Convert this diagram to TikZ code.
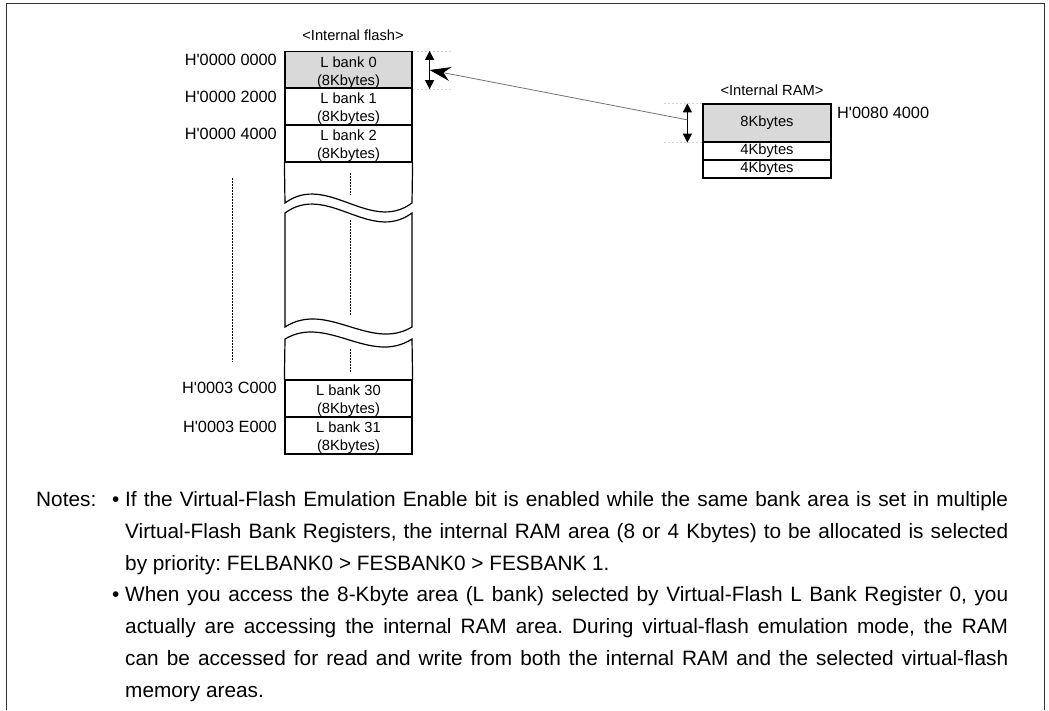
\documentclass[tikz,border=0pt]{standalone}
\usepackage{fontspec}
\setmainfont{Liberation Sans}
\usetikzlibrary{arrows.meta,calc}
\definecolor{boxgray}{RGB}{217,217,217}
\definecolor{guidegray}{RGB}{215,215,215}
\newcommand{\aps}{\textquotesingle}
\frenchspacing
\tikzset{
  lbl/.style={font=\fontsize{14.7}{18}\selectfont, inner sep=0pt},
  addr/.style={font=\fontsize{16.3}{18}\selectfont, inner sep=0pt, text height=11.7pt, text depth=0pt},
  bank/.style={draw, line width=1.2pt, minimum width=127pt, minimum height=37pt, inner sep=0pt,
               align=center, font=\fontsize{14.7}{18}\selectfont, text height=33pt, text depth=3pt},
  rambox/.style={draw, line width=1.2pt, minimum width=128pt, inner sep=0pt,
               font=\fontsize{14.7}{18}\selectfont},
  colline/.style={line width=1.2pt},
  dots/.style={line width=1pt, dash pattern=on 1.5pt off 1.5pt},
  guide/.style={guidegray, line width=0.6pt, dash pattern=on 2pt off 2pt},
  dblarrow/.style={line width=1.2pt, {Triangle[length=9pt,width=9pt]}-{Triangle[length=9pt,width=9pt]}},
  note/.style={font=\fontsize{20.8}{24}\selectfont\frenchspacing, inner sep=0pt, anchor=base west},
}
\begin{document}
\begin{tikzpicture}[x=1pt,y=-1pt]
\useasboundingbox (0,0) rectangle (1049,710);
% outer frame (open at bottom)
\draw[line width=1pt, black!80] (6,710) -- (6,3) -- (1044,3) -- (1044,710);

% ---------- internal flash ----------
\node[lbl] (fltitle) at (353,35) {<Internal flash>};
\node[bank, fill=boxgray] (b0) at (348.5,70) {L bank 0\\(8Kbytes)};
\node[bank] (b1) at (348.5,106.5) {L bank 1\\(8Kbytes)};
\node[bank] (b2) at (348.5,143.5) {L bank 2\\(8Kbytes)};
\node[bank] (b30) at (348.5,398.5) {L bank 30\\(8Kbytes)};
\node[bank] (b31) at (348.5,435.5) {L bank 31\\(8Kbytes)};

% broken middle part
\draw[colline] (b2.south west) -- (285,203)
   .. controls (327,172) and (370,234) .. (412,203) -- (b2.south east);
\draw[colline] (285,213) .. controls (327,182) and (370,244) .. (412,213)
   -- (412,327) .. controls (370,352) and (327,300) .. (285,327) -- cycle;
\draw[colline] (b30.north west) -- (285,339)
   .. controls (327,314) and (370,366) .. (412,339) -- (b30.north east);

% dotted continuation marks
\draw[dots] (350,173) -- (350,195);
\draw[dots] (350,220) -- (350,315);
\draw[dots] (350,349) -- (350,372);
\draw[dots] (232,178) -- (232,362);

% addresses
\node[addr, anchor=east] (a0) at (277,60) {H\aps0000 0000};
\node[addr, anchor=east] (a1) at (277,97) {H\aps0000 2000};
\node[addr, anchor=east] (a2) at (277,134) {H\aps0000 4000};
\node[addr, anchor=east] (a30) at (277,388) {H\aps0003 C000};
\node[addr, anchor=east] (a31) at (277,427) {H\aps0003 E000};

% flash side size arrow
\coordinate (ft) at ($(b0.north east)+(17,0)$);
\coordinate (fb) at ($(b0.south east)+(17,0)$);
\coordinate (fm) at ($(ft)!0.5!(fb)$);
\draw[guide] (b0.north east) -- ++(38,0);
\draw[guide] (b0.south east) -- ++(38,0);
\draw[dblarrow] (ft) -- (fb);

% ---------- internal RAM ----------
\node[lbl] (ramtitle) at (772,90) {<Internal RAM>};
\node[rambox, fill=boxgray, minimum height=38pt] (r8) at (767,123) {8Kbytes};
\node[rambox, minimum height=18pt] (r4a) at (767,151) {4Kbytes};
\node[rambox, minimum height=18pt] (r4b) at (767,169) {4Kbytes};
\node[addr, anchor=west] (ra) at (837,113) {H\aps0080 4000};

\coordinate (rt) at ($(r8.north west)+(-15,0)$);
\coordinate (rb) at ($(r8.south west)+(-15,0)$);
\coordinate (rm) at ($(rt)!0.42!(rb)$);
\draw[guide] (r8.north west) -- ++(-40,0);
\draw[guide] (r8.south west) -- ++(-40,0);
\draw[dblarrow] (rt) -- (rb);

% mapping arrow
\draw[black!55, line width=0.8pt, -{Stealth[length=21pt,width=14pt,inset=7pt,black]}] (rm) -- (fm);

% ---------- notes ----------
\node[note] (notes) at (36,506.5) {Notes:};
\node[note] (bul1) at (112,506.5) {•};
\node[note] (n1) at (125,506.5) {\makebox[883pt][s]{If the Virtual-Flash Emulation Enable bit is enabled while the same bank area is set in multiple}};
\node[note] (n2) at (125,538.3) {\makebox[883pt][s]{Virtual-Flash Bank Registers, the internal RAM area (8 or 4 Kbytes) to be allocated is selected}};
\node[note] (n3) at (125,570.1) {by priority: FELBANK0 > FESBANK0 > FESBANK 1.};
\node[note] (bul2) at (112,601.8) {•};
\node[note] (n4) at (125,601.8) {\makebox[883pt][s]{When you access the 8-Kbyte area (L bank) selected by Virtual-Flash L Bank Register 0, you}};
\node[note] (n5) at (125,633.6) {\makebox[883pt][s]{actually are accessing the internal RAM area. During virtual-flash emulation mode, the RAM}};
\node[note] (n6) at (125,665.4) {\makebox[883pt][s]{can be accessed for read and write from both the internal RAM and the selected virtual-flash}};
\node[note] (n7) at (125,697.2) {memory areas.};
\end{tikzpicture}
\end{document}
